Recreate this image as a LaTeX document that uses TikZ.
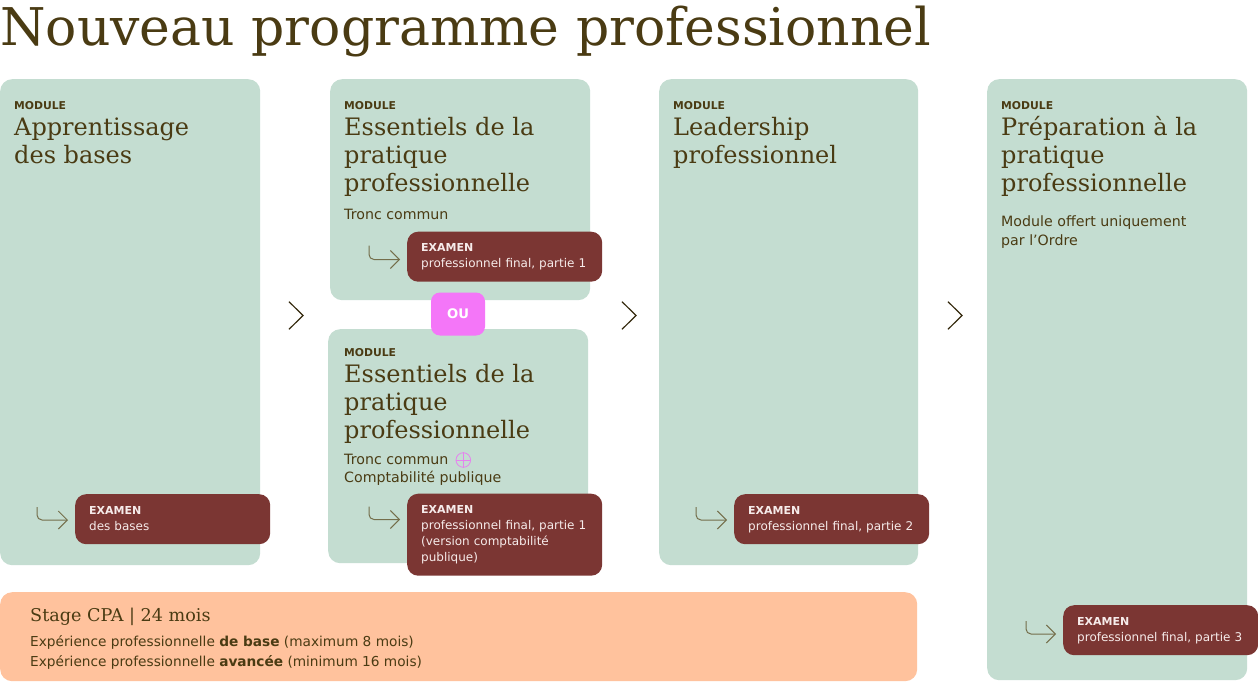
\documentclass[tikz,border=0pt]{standalone}
\usepackage{fontspec}
\setmainfont{DejaVu Serif}
\setsansfont{DejaVu Sans}
\usetikzlibrary{positioning,arrows.meta,calc}

\definecolor{modgreen}{HTML}{C4DDD1}
\definecolor{examred}{HTML}{7B3633}
\definecolor{stagepeach}{HTML}{FFC29D}
\definecolor{oupink}{HTML}{F476F8}
\definecolor{ringpink}{HTML}{E583EE}
\definecolor{inkbrown}{HTML}{4A3B13}
\definecolor{hookolive}{HTML}{746E4B}
\definecolor{examink}{HTML}{F6EBEA}

\newcommand{\examhead}{{\fontsize{11}{16}\selectfont\bfseries EXAMEN}}

\begin{document}
\begin{tikzpicture}[x=1pt, y=-1pt,
  modbox/.style={fill=modgreen, rounded corners=12pt, anchor=north west, inner sep=0pt},
  modlabel/.style={anchor=base west, inner sep=0pt, text=inkbrown, font=\sffamily\bfseries\fontsize{10.8}{13}\selectfont},
  modtitle/.style={anchor=north west, inner sep=0pt, align=left, text=inkbrown, font=\fontsize{24}{28}\selectfont},
  modnote/.style={anchor=north west, inner sep=0pt, align=left, text=inkbrown, font=\sffamily\fontsize{14.2}{18.5}\selectfont},
  exam/.style={fill=examred, rounded corners=11pt, anchor=north west, text width=167pt, inner xsep=14pt, inner ysep=9pt, align=left, text=examink, font=\sffamily\fontsize{12}{16}\selectfont},
  hook/.style={draw=hookolive, line width=1pt, rounded corners=5pt, shorten >=7pt, -{Straight Barb[length=9pt,width=18pt]}},
  chev/.style={draw=inkbrown!70!black, line width=1.2pt}]

\fill[white] (0,0) rectangle (1258,682);
\useasboundingbox (0,0) rectangle (1258,682);

% title
\node[anchor=base west, inner sep=0pt, text=inkbrown, font=\fontsize{52}{60}\selectfont] (title) at (0,46) {Nouveau programme professionnel};

% module boxes
\node[modbox, minimum width=260, minimum height=486] (m1) at (0,79) {};
\node[modbox, minimum width=260, minimum height=221] (m2a) at (330,79) {};
\node[modbox, minimum width=260, minimum height=234] (m2b) at (328,329) {};
\node[modbox, minimum width=259, minimum height=486] (m3) at (659,79) {};
\node[modbox, minimum width=260, minimum height=601] (m4) at (987,79) {};
\node[fill=stagepeach, rounded corners=12pt, anchor=north west, inner sep=0pt, minimum width=917, minimum height=89] (stage) at (0,592) {};

% between the two versions
\node[fill=oupink, rounded corners=9pt, minimum width=54, minimum height=43, text=white, font=\sffamily\bfseries\fontsize{13.2}{15}\selectfont] (ou) at (458,314) {OU};

% chevrons
\foreach \cx in {289,622,948}
  \draw[chev] (\cx,301.7) -- (\cx+14,315.5) -- (\cx,329.3);

% module texts
\node[modlabel] (l1) at (14,109.3) {MODULE};
\node[modtitle] (t1) at (14,116.1) {\strut Apprentissage\\des bases};

\node[modlabel] (l2a) at (344,109.3) {MODULE};
\node[modtitle] (t2a) at (344,116.1) {\strut Essentiels de la\\pratique\\professionnelle};
\node[modnote] (n2a) at (344,206.4) {\strut Tronc commun};

\node[modlabel] (l2b) at (344,356.3) {MODULE};
\node[modtitle] (t2b) at (344,363.1) {\strut Essentiels de la\\pratique\\professionnelle};
\node[modnote] (n2b) at (344,451) {\strut Tronc commun\\Comptabilité publique};
\node[circle, draw=ringpink, line width=0.8pt, minimum size=14.6, inner sep=0pt] (plus) at (463.3,460) {};
\draw[ringpink, line width=0.8pt] (plus.north) -- (plus.south) (plus.west) -- (plus.east);

\node[modlabel] (l3) at (673,109.3) {MODULE};
\node[modtitle] (t3) at (673,116.1) {\strut Leadership\\professionnel};

\node[modlabel] (l4) at (1001,109.3) {MODULE};
\node[modtitle] (t4) at (1001,116.1) {\strut Préparation à la\\pratique\\professionnelle};
\node[modnote] (n4) at (1001,213.8) {\strut Module offert uniquement\\par l’Ordre};

% stage
\node[anchor=base west, inner sep=0pt, text=inkbrown, font=\fontsize{17.6}{22}\selectfont] (st) at (30,621.5) {Stage CPA | 24 mois};
\node[anchor=north west, inner sep=0pt, align=left, text=inkbrown, font=\sffamily\fontsize{13.7}{20}\selectfont] (sn) at (30,632.5) {\strut Expérience professionnelle \textbf{de base} (maximum 8 mois)\\Expérience professionnelle \textbf{avancée} (minimum 16 mois)};

% exams
\node[exam] (e1) at (75,494) {\strut\examhead\\des bases\strut};
\node[exam] (e2a) at (407,231.5) {\strut\examhead\\professionnel final, partie 1\strut};
\node[exam] (e2b) at (407,493.5) {\strut\examhead\\professionnel final, partie 1\\(version comptabilité\\publique)\strut};
\node[exam] (e3) at (734,494) {\strut\examhead\\professionnel final, partie 2\strut};
\node[exam] (e4) at (1063,605) {\strut\examhead\\professionnel final, partie 3\strut};

% hooks into the exams
\coordinate (h1) at ($(e1.north west)+(-38,13)$);
\coordinate (h2a) at ($(e2a.north west)+(-38,14)$);
\coordinate (h2b) at ($(e2b.north west)+(-38,13)$);
\coordinate (h3) at ($(e3.north west)+(-38,13)$);
\coordinate (h4) at ($(e4.north west)+(-37,16)$);
\draw[hook] (h1) |- ([yshift=-26pt]e1.north west);
\draw[hook] (h2a) |- ([yshift=-28pt]e2a.north west);
\draw[hook] (h2b) |- ([yshift=-26pt]e2b.north west);
\draw[hook] (h3) |- ([yshift=-26pt]e3.north west);
\draw[hook] (h4) |- ([yshift=-29pt]e4.north west);

\end{tikzpicture}
\end{document}
